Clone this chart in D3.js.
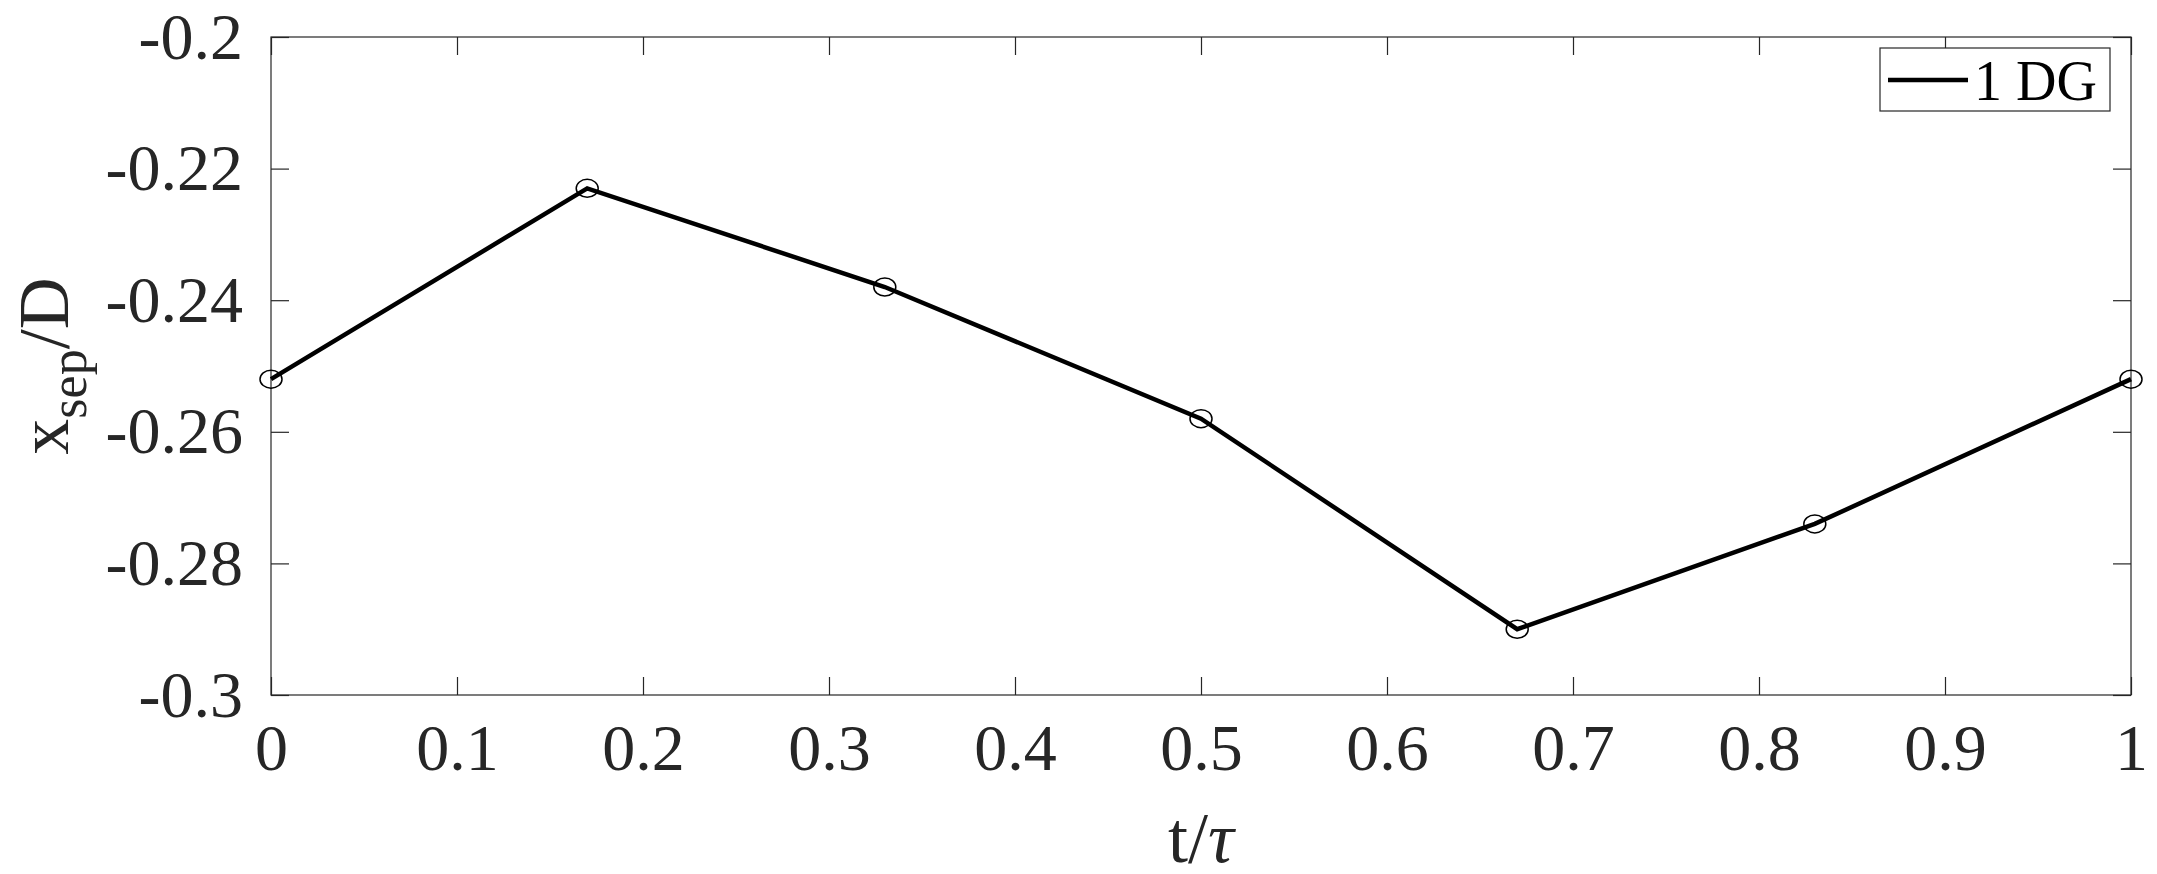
<!DOCTYPE html>
<html><head><meta charset="utf-8">
<script src="https://cdn.jsdelivr.net/npm/d3@7"></script>
<style>body{margin:0;background:#fff}</style></head>
<body><svg id="c" width="2157" height="874"></svg>
<script>
const tValues = [0, 0.17, 0.33, 0.5, 0.67, 0.83, 1];
const xsepValues = [-0.252, -0.223, -0.238, -0.258, -0.290, -0.274, -0.252];
const xTicks = [0,0.1,0.2,0.3,0.4,0.5,0.6,0.7,0.8,0.9,1];
const yTicks = [-0.3,-0.28,-0.26,-0.24,-0.22,-0.2];
const seriesName = "1 DG";

const svg = d3.select("#c");
const L=271,R=2131,T=37,B=695;
const font="'Liberation Serif', 'Times New Roman', serif";
const x=d3.scaleLinear().domain([0,1]).range([L,R]);
const y=d3.scaleLinear().domain([-0.3,-0.2]).range([B,T]);
const col="#262626";
const fmt=d=>d===0?"0":d===1?"1":String(d);

svg.append("rect").attr("x",L).attr("y",T).attr("width",R-L).attr("height",B-T).attr("fill","none").attr("stroke",col).attr("stroke-width",1.2);

const xb=svg.append("g").attr("transform",`translate(0,${B})`).call(d3.axisBottom(x).tickValues(xTicks).tickSize(-18).tickPadding(28).tickFormat(fmt));
const xt=svg.append("g").attr("transform",`translate(0,${T})`).call(d3.axisTop(x).tickValues(xTicks).tickSize(-18).tickFormat(""));
const yl=svg.append("g").attr("transform",`translate(${L},0)`).call(d3.axisLeft(y).tickValues(yTicks).tickSize(-18).tickPadding(28).tickFormat(fmt));
const yr=svg.append("g").attr("transform",`translate(${R},0)`).call(d3.axisRight(y).tickValues(yTicks).tickSize(-18).tickFormat(""));
[xb,xt,yl,yr].forEach(g=>{g.select(".domain").remove();g.selectAll("line").attr("stroke",col).attr("stroke-width",1.2);
  g.selectAll("text").attr("font-family",font).attr("font-size",66).attr("fill",col);});
xb.selectAll("text").attr("dy","0.71em");

const pts=tValues.map((t,i)=>[t,xsepValues[i]]);
svg.append("path").attr("d",d3.line().x(d=>x(d[0])).y(d=>y(d[1]))(pts)).attr("fill","none").attr("stroke","#000").attr("stroke-width",4.5);
svg.selectAll("ellipse.m").data(pts).join("ellipse").attr("cx",d=>x(d[0])).attr("cy",d=>y(d[1])).attr("rx",11).attr("ry",9).attr("fill","none").attr("stroke","#000").attr("stroke-width",1.5);

// legend
svg.append("rect").attr("x",1880).attr("y",48).attr("width",230).attr("height",63).attr("fill","#fff").attr("stroke",col).attr("stroke-width",1.2);
svg.append("line").attr("x1",1888).attr("x2",1968).attr("y1",80).attr("y2",80).attr("stroke","#000").attr("stroke-width",4.5);
svg.append("text").attr("x",1974).attr("y",100).attr("font-family",font).attr("font-size",56).attr("fill","#000").text(seriesName);

// axis labels
svg.append("text").attr("x",(L+R)/2).attr("y",862).attr("text-anchor","middle").attr("font-family",font).attr("font-size",72).attr("fill",col)
  .html('t/<tspan font-style="italic">τ</tspan>');
const yt=svg.append("text").attr("transform",`translate(68,${(T+B)/2}) rotate(-90)`).attr("text-anchor","middle").attr("font-family",font).attr("font-size",72).attr("fill",col);
yt.append("tspan").text("x");
yt.append("tspan").attr("font-size",52).attr("dy",18).text("sep");
yt.append("tspan").attr("dy",-18).text("/D");
</script></body></html>
